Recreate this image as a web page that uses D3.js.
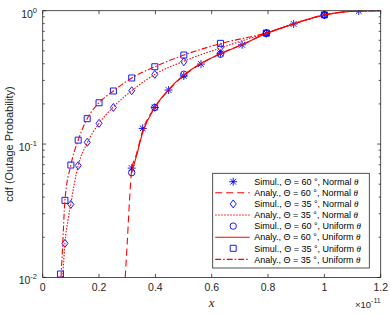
<!DOCTYPE html>
<html>
<head>
<meta charset="utf-8">
<script src="https://cdn.jsdelivr.net/npm/d3@7"></script>
<style>
  body { margin: 0; background: #fff; }
  svg { display: block; font-family: "Liberation Sans", Arial, sans-serif; }
</style>
</head>
<body>
<div id="chart"></div>
<script>
// x values in units of 1e-11
const simX60N = [0.316, 0.355, 0.398, 0.447, 0.501, 0.562, 0.631, 0.708, 0.794, 0.891, 1.0, 1.122];
const simY60N = [0.066, 0.131, 0.188, 0.254, 0.324, 0.398, 0.479, 0.555, 0.676, 0.795, 0.928, 0.995];

const anaX60N = [0.293, 0.300, 0.308, 0.316, 0.332, 0.355, 0.398, 0.447, 0.501, 0.562, 0.631, 0.708, 0.794, 0.891, 1.0, 1.1, 1.2];
const anaY60N = [0.01, 0.018, 0.037, 0.064, 0.083, 0.126, 0.188, 0.254, 0.326, 0.400, 0.477, 0.557, 0.676, 0.795, 0.928, 0.99, 1.0];

const simX35N = [0.079, 0.1, 0.126, 0.158, 0.2, 0.251, 0.316, 0.398, 0.501, 0.631, 0.794, 1.0];
const simY35N = [0.018, 0.0353, 0.069, 0.103, 0.143, 0.188, 0.251, 0.333, 0.414, 0.528, 0.68, 0.93];

const anaX35N = [0.071, 0.079, 0.09, 0.1, 0.126, 0.158, 0.2, 0.251, 0.316, 0.398, 0.501, 0.631, 0.794, 1.0, 1.1, 1.2];
const anaY35N = [0.01, 0.018, 0.027, 0.036, 0.069, 0.102, 0.143, 0.19, 0.251, 0.333, 0.418, 0.525, 0.68, 0.93, 0.99, 1.0];

const simX60U = [0.316, 0.398, 0.501, 0.631, 0.794, 1.0];
const simY60U = [0.061, 0.188, 0.334, 0.471, 0.676, 0.93];

const anaX60U = [0.316, 0.332, 0.355, 0.398, 0.447, 0.501, 0.562, 0.631, 0.708, 0.794, 0.891, 1.0, 1.1, 1.2];
const anaY60U = [0.061, 0.08, 0.122, 0.188, 0.256, 0.33, 0.402, 0.474, 0.557, 0.676, 0.795, 0.928, 0.99, 1.0];

const simX35U = [0.063, 0.079, 0.1, 0.126, 0.158, 0.2, 0.251, 0.316, 0.398, 0.501, 0.631, 0.794, 1.0];
const simY35U = [0.0106, 0.0378, 0.0696, 0.107, 0.155, 0.204, 0.25, 0.313, 0.38, 0.465, 0.569, 0.68, 0.93];

const anaX35U = [0.065, 0.07, 0.079, 0.1, 0.126, 0.158, 0.2, 0.251, 0.316, 0.398, 0.501, 0.631, 0.794, 1.0, 1.1, 1.2];
const anaY35U = [0.01, 0.016, 0.0378, 0.0696, 0.107, 0.155, 0.204, 0.25, 0.313, 0.38, 0.465, 0.566, 0.68, 0.93, 0.99, 1.0];

const xTicks = [0, 0.2, 0.4, 0.6, 0.8, 1, 1.2];
const yDecades = [0.01, 0.1, 1];
const yExponents = ['-2', '-1', '0'];

const legendLabels = [
  ['Simul., ', '60', 'Normal '],
  ['Analy., ', '60', 'Normal '],
  ['Simul., ', '35', 'Normal '],
  ['Analy., ', '35', 'Normal '],
  ['Simul., ', '60', 'Uniform '],
  ['Analy., ', '60', 'Uniform '],
  ['Simul., ', '35', 'Uniform '],
  ['Analy., ', '35', 'Uniform '],
];

const W = 390, H = 314;
const margin = {top: 10.7, right: 9.3, bottom: 36.6, left: 42.7};
const AXIS = '#262626', BLUE = '#0000ff', RED = '#ff0000';

const svg = d3.select('#chart').append('svg')
  .attr('width', W).attr('height', H);

const x = d3.scaleLinear().domain([0, 1.2]).range([margin.left, W - margin.right]);
const y = d3.scaleLog().domain([0.01, 1]).range([H - margin.bottom, margin.top]);

svg.append('clipPath').attr('id', 'plot')
  .append('rect')
  .attr('x', x(0)).attr('y', y(1))
  .attr('width', x(1.2) - x(0)).attr('height', y(0.01) - y(1));

// marker shapes, centred at 0,0
function markerPath(kind, s) {
  const p = d3.path();
  if (kind === 'star') {
    const d = s * 0.72;
    p.moveTo(-s, 0); p.lineTo(s, 0);
    p.moveTo(0, -s); p.lineTo(0, s);
    p.moveTo(-d, -d); p.lineTo(d, d);
    p.moveTo(-d, d); p.lineTo(d, -d);
  } else if (kind === 'diamond') {
    p.moveTo(0, -s); p.lineTo(s * 0.75, 0); p.lineTo(0, s); p.lineTo(-s * 0.75, 0); p.closePath();
  } else if (kind === 'circle') {
    p.arc(0, 0, s * 0.8, 0, 2 * Math.PI);
  } else if (kind === 'square') {
    const h = s * 0.75;
    p.rect(-h, -h, 2 * h, 2 * h);
  }
  return p.toString();
}

const series = [
  {type: 'sim', xs: simX60N, ys: simY60N, marker: 'star'},
  {type: 'ana', xs: anaX60N, ys: anaY60N, dash: '7,4'},
  {type: 'sim', xs: simX35N, ys: simY35N, marker: 'diamond'},
  {type: 'ana', xs: anaX35N, ys: anaY35N, dash: '1.5,1.5'},
  {type: 'sim', xs: simX60U, ys: simY60U, marker: 'circle'},
  {type: 'ana', xs: anaX60U, ys: anaY60U, dash: null},
  {type: 'sim', xs: simX35U, ys: simY35U, marker: 'square'},
  {type: 'ana', xs: anaX35U, ys: anaY35U, dash: '6,2,1.5,2'},
];

const line = d3.line()
  .x(d => x(d[0]))
  .y(d => y(d[1]))
  .curve(d3.curveMonotoneX);

const g = svg.append('g').attr('clip-path', 'url(#plot)');

series.forEach(s => {
  const pts = s.xs.map((v, i) => [v, s.ys[i]]);
  if (s.type === 'ana') {
    g.append('path')
      .datum(pts)
      .attr('d', line)
      .attr('fill', 'none')
      .attr('stroke', RED)
      .attr('stroke-width', 1.1)
      .attr('stroke-dasharray', s.dash);
  } else {
    g.selectAll(null)
      .data(pts)
      .enter().append('path')
      .attr('transform', d => `translate(${x(d[0])},${y(d[1])})`)
      .attr('d', markerPath(s.marker, 4))
      .attr('fill', 'none')
      .attr('stroke', BLUE)
      .attr('stroke-width', 0.9);
  }
});

// box + ticks
const axes = svg.append('g').attr('stroke', AXIS).attr('stroke-width', 0.8);
axes.append('rect')
  .attr('x', x(0)).attr('y', y(1))
  .attr('width', x(1.2) - x(0)).attr('height', y(0.01) - y(1))
  .attr('fill', 'none');

xTicks.forEach(t => {
  axes.append('line').attr('x1', x(t)).attr('x2', x(t))
    .attr('y1', y(0.01)).attr('y2', y(0.01) - 3.5);
  axes.append('line').attr('x1', x(t)).attr('x2', x(t))
    .attr('y1', y(1)).attr('y2', y(1) + 3.5);
});

yDecades.forEach((dec, i) => {
  [x(0), x(1.2)].forEach((xx, side) => {
    const dir = side === 0 ? 1 : -1;
    axes.append('line').attr('x1', xx).attr('x2', xx + dir * 3.5)
      .attr('y1', y(dec)).attr('y2', y(dec));
    if (i < yDecades.length - 1) {
      for (let k = 2; k <= 9; k++) {
        axes.append('line').attr('x1', xx).attr('x2', xx + dir * 2)
          .attr('y1', y(dec * k)).attr('y2', y(dec * k));
      }
    }
  });
});

// tick labels
svg.append('g').selectAll('text')
  .data(xTicks)
  .enter().append('text')
  .attr('x', d => x(d))
  .attr('y', y(0.01) + 14)
  .attr('text-anchor', 'middle')
  .attr('font-size', 10.5)
  .attr('fill', AXIS)
  .text(d => d3.format('~g')(d));

yDecades.forEach((dec, i) => {
  const t = svg.append('text')
    .attr('x', 37)
    .attr('y', y(dec) + 7)
    .attr('text-anchor', 'end')
    .attr('font-size', 10.5)
    .attr('fill', AXIS);
  t.append('tspan').text('10');
  t.append('tspan').attr('dy', -5).attr('font-size', 7.5).text(yExponents[i]);
});

// axis labels
svg.append('text')
  .attr('transform', `translate(13,${(y(1) + y(0.01)) / 2}) rotate(-90)`)
  .attr('text-anchor', 'middle')
  .attr('font-size', 11)
  .attr('fill', AXIS)
  .text('cdf (Outage Probability)');

svg.append('text')
  .attr('x', (x(0) + x(1.2)) / 2)
  .attr('y', 307)
  .attr('text-anchor', 'middle')
  .attr('font-family', '"Liberation Serif", "DejaVu Serif", serif')
  .attr('font-style', 'italic')
  .attr('font-size', 13)
  .attr('fill', AXIS)
  .text('x');

const mult = svg.append('text')
  .attr('x', x(1.2))
  .attr('y', 308)
  .attr('text-anchor', 'end')
  .attr('font-size', 9.5)
  .attr('fill', AXIS);
mult.append('tspan').text('\u00d710');
mult.append('tspan').attr('dy', -5).attr('font-size', 7).text('-11');

// legend
const leg = svg.append('g');
const legX = 212.7, legY = 173.3, legW = 156.6, legH = 94.7, rowH = 11.1;
leg.append('rect')
  .attr('x', legX).attr('y', legY)
  .attr('width', legW).attr('height', legH)
  .attr('fill', '#fff')
  .attr('stroke', AXIS).attr('stroke-width', 0.8);

series.forEach((s, i) => {
  const cy = legY + 8.4 + i * rowH;
  if (s.type === 'ana') {
    leg.append('line')
      .attr('x1', legX + 2.5).attr('x2', legX + 37)
      .attr('y1', cy).attr('y2', cy)
      .attr('stroke', RED).attr('stroke-width', 1.1)
      .attr('stroke-dasharray', s.dash);
  } else {
    leg.append('path')
      .attr('transform', `translate(${legX + 20.5},${cy})`)
      .attr('d', markerPath(s.marker, 4))
      .attr('fill', 'none')
      .attr('stroke', BLUE).attr('stroke-width', 0.9);
  }
  const lab = legendLabels[i];
  const t = leg.append('text')
    .attr('x', legX + 41.5)
    .attr('y', cy + 3.2)
    .attr('font-size', 9)
    .attr('fill', '#000');
  t.append('tspan').text(lab[0] + '\u0398 = ' + lab[1] + ' \u00b0, ' + lab[2]);
  t.append('tspan').attr('font-style', 'italic')
    .attr('font-family', '"Liberation Serif", serif').text('\u03b8');
});
</script>
</body>
</html>
